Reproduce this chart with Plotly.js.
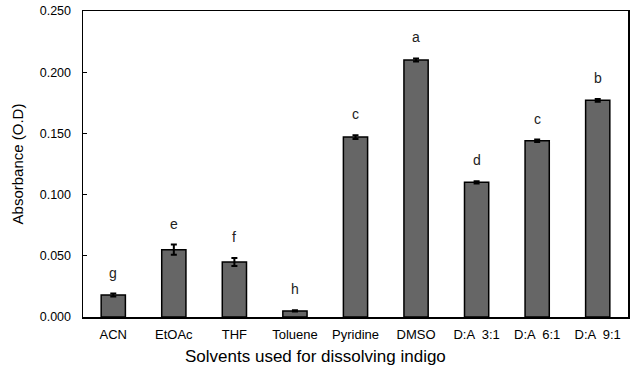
<!DOCTYPE html>
<html>
<head>
<meta charset="utf-8">
<script src="https://cdn.plot.ly/plotly-3.0.1.min.js"></script>
<style>html,body{margin:0;padding:0;background:#fff;}#chart{width:633px;height:373px;}</style>
</head>
<body>
<div id="chart"></div>
<script>
var categories = ["ACN", "EtOAc", "THF", "Toluene", "Pyridine", "DMSO", "D:A  3:1", "D:A  6:1", "D:A  9:1"];
var absorbance = [0.018, 0.055, 0.045, 0.005, 0.147, 0.210, 0.110, 0.144, 0.177];
var errors = [0.0012, 0.0042, 0.0033, 0.0006, 0.0015, 0.0012, 0.0010, 0.0010, 0.0012];
var letters = ["g", "e", "f", "h", "c", "a", "d", "c", "b"];
var yTicks = [0, 0.05, 0.10, 0.15, 0.20, 0.25];

var fontFam = "Liberation Sans, Arial, sans-serif";

var trace = {
  type: "bar",
  x: categories,
  y: absorbance,
  marker: {color: "#666666", line: {color: "#000000", width: 1.5}},
  error_y: {type: "data", array: errors, visible: true, color: "#000000", thickness: 2, width: 3},
  hoverinfo: "none"
};

var annotations = categories.map(function(c, i) {
  return {
    x: c, y: absorbance[i] + errors[i], xref: "x", yref: "y",
    text: letters[i], showarrow: false, yanchor: "bottom", yshift: 11,
    font: {family: fontFam, size: 14, color: "#222"}
  };
});
annotations.push({
  xref: "paper", yref: "paper", x: 0.4275, y: 0, yanchor: "top", yshift: -28,
  text: "Solvents used for dissolving indigo", showarrow: false,
  font: {family: fontFam, size: 17, color: "#000"}
});

var layout = {
  width: 633, height: 373,
  margin: {l: 83, r: 5, t: 11, b: 56},
  paper_bgcolor: "#fff", plot_bgcolor: "#fff",
  bargap: 0.6,
  showlegend: false,
  font: {family: fontFam, color: "#000"},
  xaxis: {
    type: "category", range: [-0.5, 8.5],
    showline: true, linecolor: "#000", linewidth: 1.5, mirror: true,
    ticks: "", showgrid: false, zeroline: false,
    tickfont: {family: fontFam, size: 13, color: "#000"},
    ticklabelstandoff: 5
  },
  yaxis: {
    range: [0, 0.25], tickvals: yTicks, tickformat: ".3f",
    showline: true, linecolor: "#000", linewidth: 1.5, mirror: true,
    ticks: "inside", ticklen: 4, tickcolor: "#000",
    showgrid: false, zeroline: false,
    tickfont: {family: fontFam, size: 12.5, color: "#000"},
    ticklabelstandoff: 8,
    title: {text: "Absorbance (O.D)", font: {family: fontFam, size: 15, color: "#000"}, standoff: 12}
  },
  annotations: annotations
};

Plotly.newPlot("chart", [trace], layout, {displayModeBar: false, staticPlot: true});
</script>
</body>
</html>
